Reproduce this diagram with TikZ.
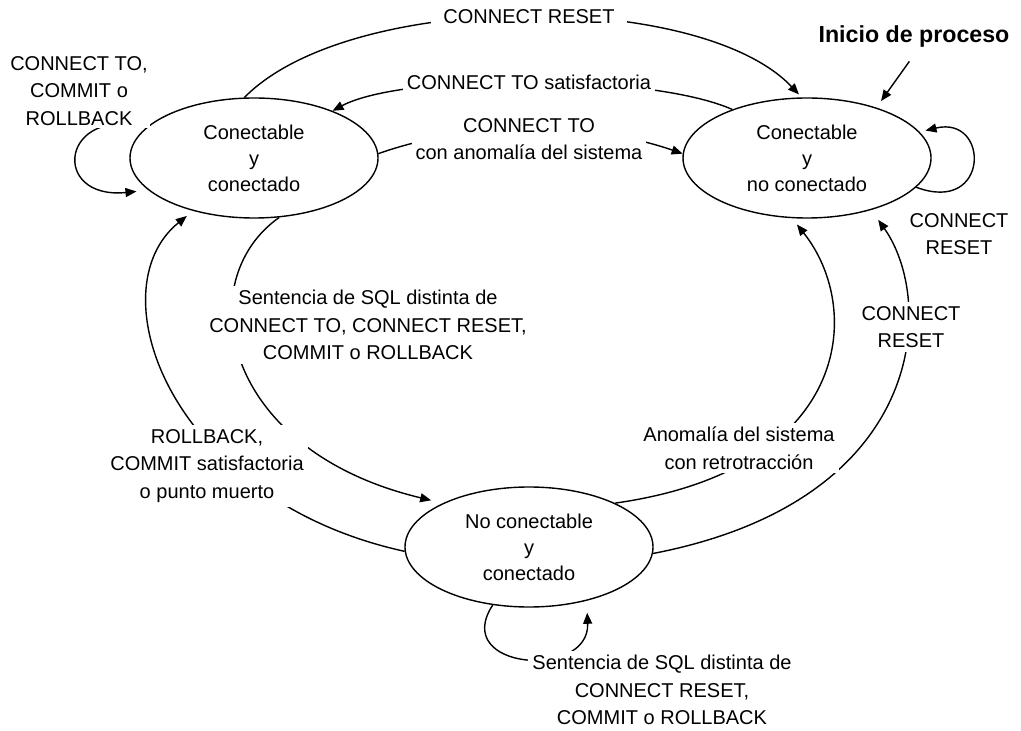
\documentclass[tikz,border=0pt]{standalone}
\usepackage{fontspec}
\setmainfont{Liberation Sans}
\usetikzlibrary{shapes.geometric,arrows.meta}
\tikzset{
  estado/.style={ellipse,draw,line width=0.7pt,minimum width=124pt,minimum height=60pt,
    inner sep=0pt,align=center,font=\fontsize{10}{13}\selectfont},
  etiq/.style={fill=white,inner sep=2pt,align=center,font=\fontsize{10}{13.8}\selectfont},
  flecha/.style={line width=0.7pt,-{Triangle[length=5.5pt,width=4.5pt]}}
}
\begin{document}
\begin{tikzpicture}[x=0.5pt,y=0.5pt]
\useasboundingbox (0,0) rectangle (1021,-731);
% estados
\node[estado] (A) at (254,-158) {Conectable\\y\\conectado};
\node[estado] (B) at (807,-158) {Conectable\\y\\no conectado};
\node[estado] (C) at (529,-547) {No conectable\\y\\conectado};
\node[font=\bfseries\fontsize{11.6}{14}\selectfont] (init) at (914,-37) {Inicio de proceso};

% transiciones
\draw[flecha,shorten >=2pt] (A.99) .. controls (350,10) and (700,10) .. (B.95);
\draw[flecha] (B.147) .. controls (650,-73) and (403,-73) .. (A.31);
\draw[flecha] (A.2) .. controls (470,-121) and (588,-121) .. (B.178);
\draw[flecha,shorten >=6pt] (A.164) .. controls (60,-105) and (50,-200) .. (A.197);
\draw[flecha,shorten >=3pt] (B.-15) .. controls (990,-215) and (990,-115) .. (B.13);
\draw[flecha,shorten >=6pt] (C.-122) .. controls (450,-670) and (590,-680) .. (C.-43);
\draw[flecha,shorten >=6pt] (A.-67) .. controls (190,-280) and (220,-450) .. (C.153);
\draw[flecha,shorten >=4pt] (C.182) .. controls (170,-500) and (95,-290) .. (A.221);
\draw[flecha,shorten >=4pt] (C.27) .. controls (850,-470) and (865,-310) .. (B.-104);
\draw[flecha,shorten >=6pt] (C.-3) .. controls (930,-500) and (935,-300) .. (B.-39);
\draw[flecha,shorten <=4pt,shorten >=4pt] (init.south) -- (B.36);

% etiquetas
\node[etiq,inner xsep=6pt] (lreset) at (529,-17) {CONNECT RESET};
\node[etiq] (lsatis) at (529,-82) {CONNECT TO satisfactoria};
\node[etiq] (lanom) at (529,-139) {CONNECT TO\\con anomalía del sistema};
\node[etiq,inner sep=1pt] (lbucleA) at (79,-91) {CONNECT TO,\\COMMIT o\\ROLLBACK};
\node[etiq] (lbucleB) at (959,-234) {CONNECT\\RESET};
\node[etiq] (lsent) at (368,-325) {Sentencia de SQL distinta de\\CONNECT TO, CONNECT RESET,\\COMMIT o ROLLBACK};
\node[etiq] (lroll) at (207,-466) {ROLLBACK,\\COMMIT satisfactoria\\o punto muerto};
\node[etiq] (lretro) at (739,-448) {Anomalía del sistema\\con retrotracción};
\node[etiq] (lreset2) at (911,-327) {CONNECT\\RESET};
\node[etiq] (lbucleC) at (662,-690) {Sentencia de SQL distinta de\\CONNECT RESET,\\COMMIT o ROLLBACK};
\end{tikzpicture}
\end{document}
